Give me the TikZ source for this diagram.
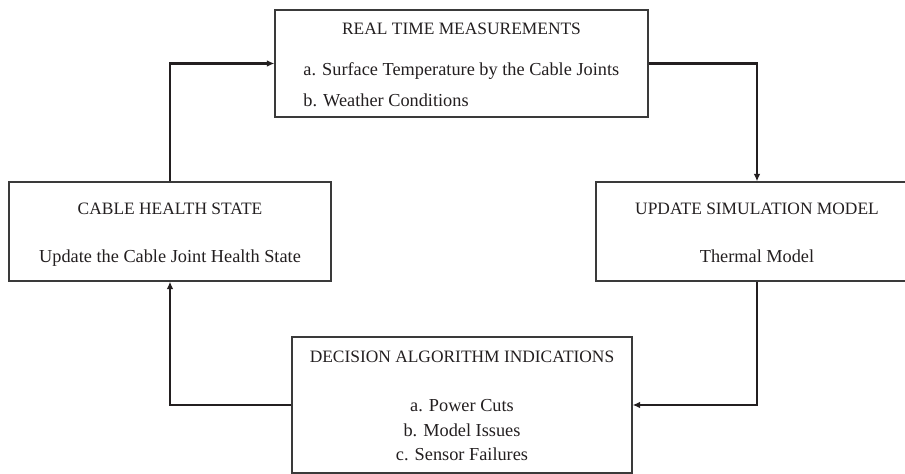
\documentclass[tikz,border=0pt]{standalone}
\usepackage{fontspec}
\setmainfont{Liberation Serif}
\usepackage{xcolor}
\usepackage{tikz}
\usetikzlibrary{arrows.meta,positioning}
\definecolor{ink}{HTML}{231F20}
\definecolor{edge}{HTML}{3A3A3A}
\tikzset{
  box/.style={draw=edge,line width=0.6pt,fill=white,inner sep=0pt},
  flow/.style={-{Latex[length=3.8pt,width=3.4pt]},line width=1.1pt,draw=ink},
  ttl/.style={anchor=base,inner sep=0pt,text=ink,font=\fontsize{8.7}{10}\selectfont},
  itm/.style={anchor=base,inner sep=0pt,text=ink,font=\fontsize{9.15}{11}\selectfont},
}

\begin{document}
\begin{tikzpicture}[x=0.5pt,y=-0.5pt]
  \useasboundingbox (0,0) rectangle (905,474);
  % the four boxes
  \node[box,minimum width=186.5pt,minimum height=53.5pt] (meas)   at (461.5,63.5) {};
  \node[box,minimum width=161pt,minimum height=49.5pt]   (health) at (170,231.5) {};
  \node[box,minimum width=161pt,minimum height=49.5pt]   (update) at (757,231.5) {};
  \node[box,minimum width=170pt,minimum height=68pt]     (decide) at (462,405) {};
  % texts
  \node[ttl] (measT) at (461.5,35) {REAL TIME MEASUREMENTS};
  \node[itm,anchor=base west] (measA) at (303,76) {a. Surface Temperature by the Cable Joints};
  \node[itm,anchor=base west] (measB) at (303,107) {b. Weather Conditions};
  \node[ttl] (healthT) at (170,215) {CABLE HEALTH STATE};
  \node[itm] (healthA) at (170,263) {Update the Cable Joint Health State};
  \node[ttl] (updateT) at (757,215) {UPDATE SIMULATION MODEL};
  \node[itm] (updateA) at (757,263) {Thermal Model};
  \node[ttl] (decideT) at (462,363) {DECISION ALGORITHM INDICATIONS};
  \node[itm] (decideA) at (462,412) {a. Power Cuts};
  \node[itm] (decideB) at (462,437) {b. Model Issues};
  \node[itm] (decideC) at (462,461) {c. Sensor Failures};
  % the loop
  \draw[flow] (health.north) |- (meas.west);
  \draw[flow] (meas.east) -| (update.north);
  \draw[flow] (update.south) |- (decide.east);
  \draw[flow] (decide.west) -| (health.south);
\end{tikzpicture}
\end{document}
